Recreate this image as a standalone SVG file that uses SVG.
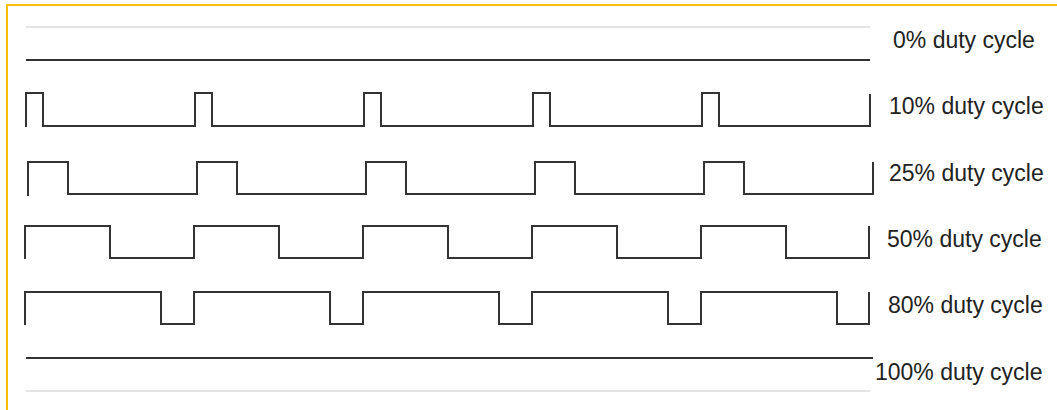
<svg xmlns="http://www.w3.org/2000/svg" width="1057" height="410" viewBox="0 0 1057 410">
<style>
.frame{fill:none;stroke:#FFC000;stroke-width:2}
.guide{fill:none;stroke:#e4e4e4;stroke-width:2}
.wave{fill:none;stroke:#333;stroke-width:2;stroke-linejoin:miter}
.lbl{font-family:"Liberation Sans",Arial,sans-serif;font-size:23px;fill:#222}
</style>
<rect x="0" y="0" width="1057" height="410" fill="#fff"/>
<path class="frame" d="M7,410 V5 H1057"/>
<g id="guides">
<line class="guide" x1="26" y1="27" x2="870" y2="27"/>
<line class="guide" x1="26" y1="391" x2="870" y2="391"/>
</g>
<g id="duty0">
<path class="wave" d="M26,60 H870"/>
<text class="lbl" x="893" y="48">0% duty cycle</text>
</g>
<g id="duty10">
<path class="wave" d="M26,127 V93 H43 V126 H195 V93 H212 V126 H364 V93 H381 V126 H533 V93 H550 V126 H702 V93 H719 V126 H870 V94"/>
<text class="lbl" x="889" y="114">10% duty cycle</text>
</g>
<g id="duty25">
<path class="wave" d="M28,196 V162 H68 V194 H197 V162 H237 V194 H366 V162 H406 V194 H535 V162 H575 V194 H704 V162 H744 V194 H873 V162"/>
<text class="lbl" x="889" y="181">25% duty cycle</text>
</g>
<g id="duty50">
<path class="wave" d="M25,259 V226 H110 V258 H194 V226 H279 V258 H363 V226 H448 V258 H532 V226 H617 V258 H701 V226 H786 V258 H869 V226"/>
<text class="lbl" x="887" y="247">50% duty cycle</text>
</g>
<g id="duty80">
<path class="wave" d="M25,325 V292 H161 V324 H194 V292 H330 V324 H363 V292 H499 V324 H532 V292 H668 V324 H701 V292 H837 V324 H869 V292"/>
<text class="lbl" x="888" y="313">80% duty cycle</text>
</g>
<g id="duty100">
<path class="wave" d="M26,358 H873"/>
<text class="lbl" x="875" y="380">100% duty cycle</text>
</g>
</svg>
